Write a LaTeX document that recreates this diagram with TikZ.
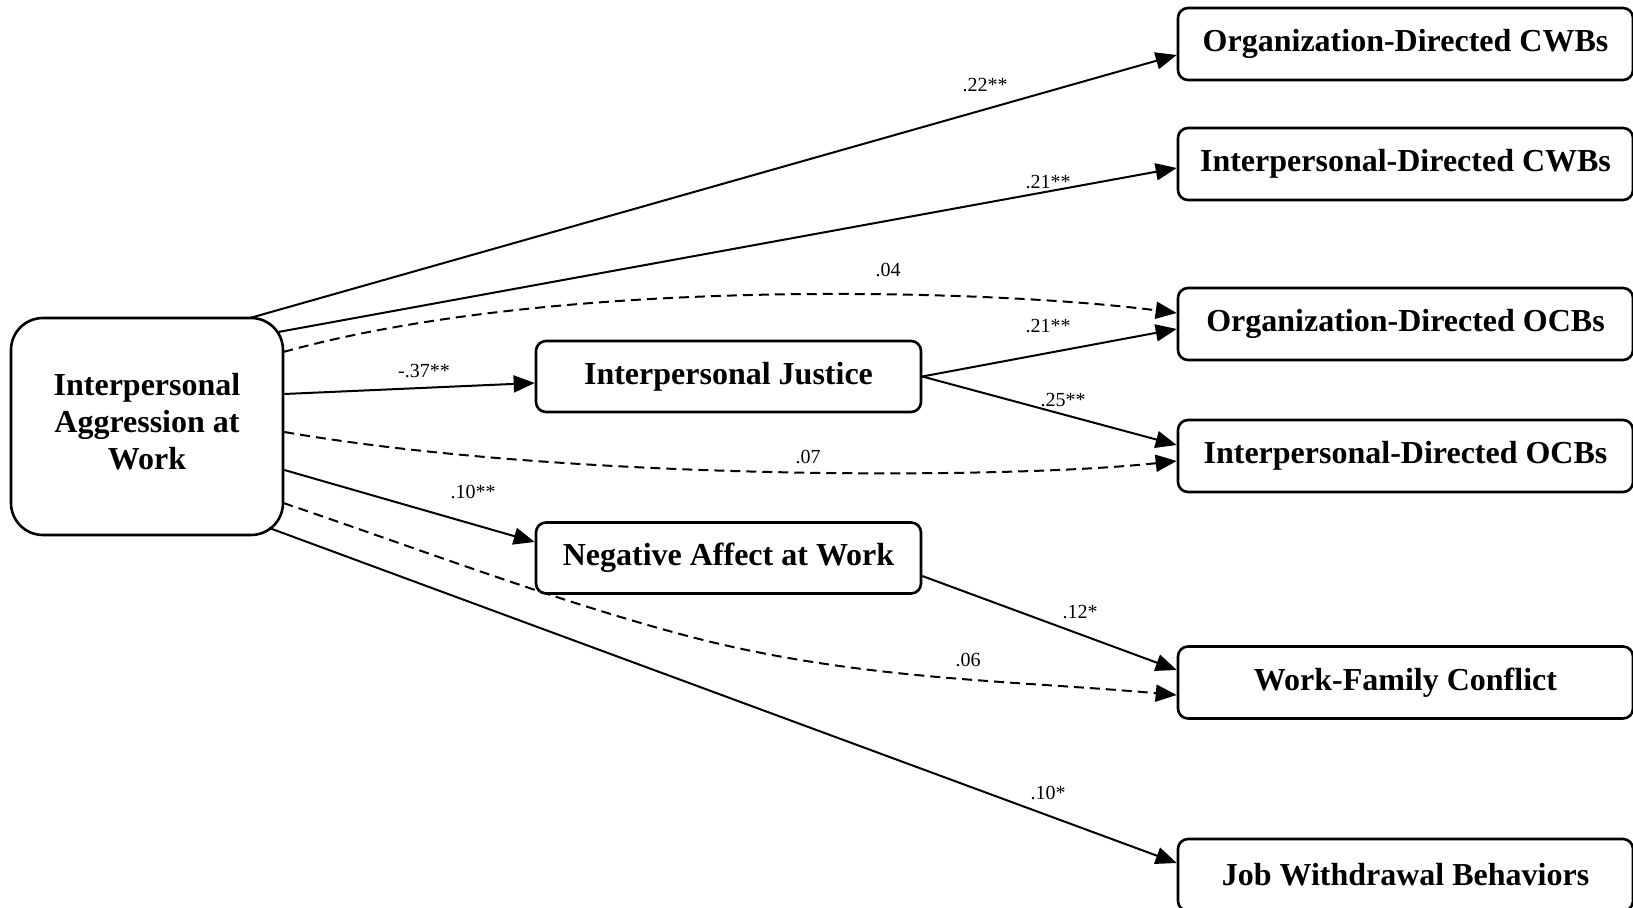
\documentclass[tikz,border=0pt]{standalone}
\usepackage{fontspec}
\setmainfont{Liberation Serif}
\usetikzlibrary{arrows.meta}

\begin{document}
\begin{tikzpicture}[x=0.5pt, y=-0.5pt,
  box/.style={draw, line width=1.3pt, rounded corners=5pt, align=center,
    inner sep=0pt, font=\bfseries\fontsize{16}{18.5}\selectfont},
  outbox/.style={box, minimum width=227.5pt, minimum height=36pt},
  midbox/.style={box, minimum width=192.5pt, minimum height=35.5pt},
  arr/.style={line width=1pt, -{Triangle[length=10.5pt, width=8.5pt]}},
  dsh/.style={arr, dash pattern=on 5pt off 3pt},
  lbl/.style={inner sep=0pt, font=\fontsize{10}{12}\selectfont}]

\useasboundingbox (0,0) rectangle (1633,908);

% predictor
\node[box, rounded corners=16pt, minimum width=136pt, minimum height=108.5pt,
  text depth=5pt]
  (iaw) at (147,426.5) {Interpersonal\\Aggression at\\Work};

% mediators
\node[midbox] (ij) at (728.5,376.5) {Interpersonal Justice};
\node[midbox] (na) at (728.5,558) {Negative Affect at Work};

% outcomes
\node[outbox] (ocwb) at (1405.5,44)  {Organization-Directed CWBs};
\node[outbox] (icwb) at (1405.5,164) {Interpersonal-Directed CWBs};
\node[outbox] (oocb) at (1405.5,324) {Organization-Directed OCBs};
\node[outbox] (iocb) at (1405.5,456) {Interpersonal-Directed OCBs};
\node[outbox] (wfc)  at (1405.5,682.5) {Work-Family Conflict};
\node[outbox] (jwb)  at (1405.5,875) {Job Withdrawal Behaviors};

% bend point of the direct path to work-family conflict
\coordinate (wfcbend) at (680,634);

% paths
\draw[arr] ([shift={(103,-108.5)}]iaw.center) -- ([shift={(0,11)}]ocwb.west);
\draw[arr] ([shift={(-6,-94.5)}]iaw.east) -- ([shift={(0,4)}]icwb.west);
\draw[dsh] ([shift={(-1,-74.5)}]iaw.east) .. controls +(278,-77) and +(-177,-23) .. ([shift={(0,-11)}]oocb.west);
\draw[arr] ([shift={(0,-32.5)}]iaw.east) -- ([shift={(0,6.5)}]ij.west);
\draw[dsh] ([shift={(0,5.5)}]iaw.east) .. controls +(277,48) and +(-177,19) .. ([shift={(0,5)}]iocb.west);
\draw[arr] ([shift={(0,43.5)}]iaw.east) -- ([shift={(0,-16)}]na.west);
\draw[dsh] ([shift={(-1,76.5)}]iaw.east) .. controls +(130,44) and +(-130,-35) .. (wfcbend)
  .. controls +(170,46) and +(-170,-15) .. ([shift={(0,12.5)}]wfc.west);
\draw[arr] ([shift={(-15,101.5)}]iaw.east) -- ([shift={(0,-12)}]jwb.west);
\draw[arr] (ij.east) -- ([shift={(0,5)}]oocb.west);
\draw[arr] (ij.east) -- ([shift={(0,-11)}]iocb.west);
\draw[arr] ([shift={(0,18)}]na.east) -- ([shift={(0,-12.5)}]wfc.west);

% coefficients
\node[lbl] (l1)  at (985,85)   {.22**};
\node[lbl] (l2)  at (1048,182) {.21**};
\node[lbl] (l3)  at (888,270)  {.04};
\node[lbl] (l4)  at (424,371)  {-.37**};
\node[lbl] (l5)  at (808,457)  {.07};
\node[lbl] (l6)  at (473,492)  {.10**};
\node[lbl] (l7)  at (968,660)  {.06};
\node[lbl] (l8)  at (1048,793) {.10*};
\node[lbl] (l9)  at (1048,326) {.21**};
\node[lbl] (l10) at (1063,400) {.25**};
\node[lbl] (l11) at (1080,612) {.12*};
\end{tikzpicture}
\end{document}
